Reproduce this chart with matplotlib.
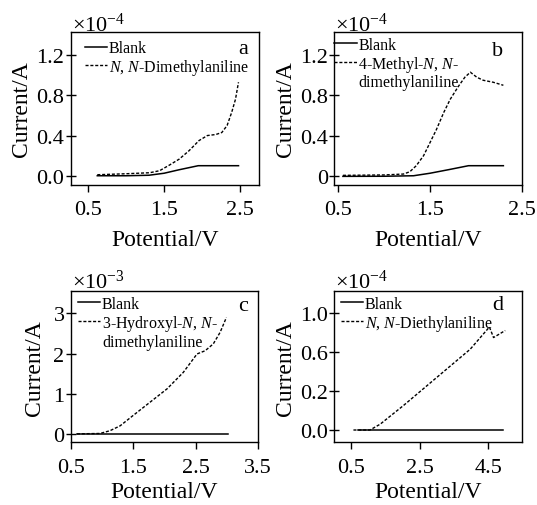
import matplotlib
matplotlib.use("Agg")
import matplotlib.pyplot as plt
import numpy as np

plt.rcParams['font.family'] = ['Liberation Serif', 'DejaVu Serif']
plt.rcParams['mathtext.fontset'] = 'custom'
plt.rcParams['mathtext.rm'] = 'Liberation Serif'
plt.rcParams['mathtext.it'] = 'Liberation Serif:italic'
plt.rcParams['axes.linewidth'] = 1.0

# ---------------- data (current in units of the axis multiplier) -------------
# panel a  (x1e-4 A)
a_blank_v = [0.62, 1.0, 1.3, 1.5, 1.7, 1.95, 2.2, 2.48]
a_blank_i = [0.0, 0.0, 0.005, 0.025, 0.06, 0.10, 0.10, 0.10]
a_samp_v = [0.62, 1.0, 1.31, 1.44, 1.57, 1.70, 1.83, 1.96, 2.07, 2.18, 2.26, 2.33, 2.39, 2.44, 2.48]
a_samp_i = [0.01, 0.02, 0.03, 0.05, 0.106, 0.166, 0.25, 0.35, 0.40, 0.41, 0.43, 0.50, 0.63, 0.76, 0.93]

# panel b  (x1e-4 A)
b_blank_v = [0.55, 1.0, 1.32, 1.5, 1.7, 1.92, 2.1, 2.30]
b_blank_i = [-0.006, -0.005, 0.0, 0.025, 0.06, 0.10, 0.10, 0.10]
b_samp_v = [0.55, 1.0, 1.21, 1.28, 1.35, 1.43, 1.50, 1.57, 1.65, 1.72, 1.81, 1.88, 1.94, 2.01, 2.08, 2.19, 2.30]
b_samp_i = [0.004, 0.008, 0.017, 0.04, 0.10, 0.20, 0.33, 0.46, 0.63, 0.76, 0.89, 0.98, 1.03, 0.98, 0.95, 0.93, 0.90]

# panel c  (x1e-3 A)
c_blank_v = [0.6, 1.5, 2.5, 3.02]
c_blank_i = [0.0, 0.0, 0.0, 0.0]
c_samp_v = [0.6, 0.97, 1.13, 1.29, 1.50, 1.77, 2.04, 2.30, 2.52, 2.65, 2.78, 2.89, 2.99]
c_samp_i = [0.0, 0.01, 0.08, 0.20, 0.46, 0.79, 1.12, 1.53, 1.99, 2.07, 2.24, 2.53, 2.90]

# panel d  (axis units; ticks drawn as printed)
d_blank_v = [0.71, 2.5, 4.94]
d_blank_i = [0.0, 0.0, 0.0]
d_samp_v = [0.57, 1.05, 1.35, 2.03, 3.0, 3.97, 4.53, 4.65, 4.99]
d_samp_i = [0.0, 0.0, 0.05, 0.21, 0.45, 0.69, 0.88, 0.79, 0.85]

labels = {
    'a': [r'$N$, $N$-Dimethylaniline'],
    'b': ['4-Methyl-$N$, $N$-', 'dimethylaniline'],
    'c': ['3-Hydroxyl-$N$, $N$-', 'dimethylaniline'],
    'd': [r'$N$, $N$-Diethylaniline'],
}

# ------------------------------ figure ---------------------------------------
W, H = 537, 506
fig = plt.figure(figsize=(W / 100, H / 100), dpi=100)

def rect(l, t, r, b):
    return [l / W, 1 - b / H, (r - l) / W, (b - t) / H]

axes = {
    'a': fig.add_axes(rect(70.7, 33, 259, 186)),
    'b': fig.add_axes(rect(334.3, 33, 521.7, 186)),
    'c': fig.add_axes(rect(70.7, 292.3, 258.3, 443.3)),
    'd': fig.add_axes(rect(334.3, 292.3, 521.7, 443.3)),
}

data = {
    'a': (a_blank_v, a_blank_i, a_samp_v, a_samp_i),
    'b': (b_blank_v, b_blank_i, b_samp_v, b_samp_i),
    'c': (c_blank_v, c_blank_i, c_samp_v, c_samp_i),
    'd': (d_blank_v, d_blank_i, d_samp_v, d_samp_i),
}

cfg = {
    'a': dict(xlim=(0.27, 2.75), ylim=(-0.092, 1.43), xt=[0.5, 1.5, 2.5], xtl=['0.5', '1.5', '2.5'],
              yt=[0, 0.4, 0.8, 1.2], ytl=['0.0', '0.4', '0.8', '1.2'], mult=r'$\times10^{-4}$',
              leg=(0.059, 0.968), let=(0.942, 0.889), moff=1.0, ylp=3, xlp=7),
    'b': dict(xlim=(0.456, 2.5), ylim=(-0.092, 1.43), xt=[0.5, 1.5, 2.5], xtl=['0.5', '1.5', '2.5'],
              yt=[0, 0.4, 0.8, 1.2], ytl=['0', '0.4', '0.8', '1.2'], mult=r'$\times10^{-4}$',
              leg=(-0.017, 0.99), let=(0.90, 0.882), moff=1.0, ylp=3, xlp=7),
    'c': dict(xlim=(0.5, 3.5), ylim=(-0.21, 3.55), xt=[0.5, 1.5, 2.5, 3.5], xtl=['0.5', '1.5', '2.5', '3.5'],
              yt=[0, 1, 2, 3], ytl=['0', '1', '2', '3'], mult=r'$\times10^{-3}$',
              leg=(0.022, 0.99), let=(0.945, 0.909), moff=2.5, ylp=6, xlp=3.5),
    'd': dict(xlim=(0.013, 5.47), ylim=(-0.105, 1.185), xt=[0.5, 2.5, 4.5], xtl=['0.5', '2.5', '4.5'],
              yt=[0, 1 / 3, 2 / 3, 1], ytl=['0.0', '0.2', '0.6', '1.0'], mult=r'$\times10^{-4}$',
              leg=(0.019, 0.99), let=(0.90, 0.912), moff=2.5, ylp=3, xlp=3.5),
}

for key, ax in axes.items():
    bv, bi, sv, si = data[key]
    c = cfg[key]
    ax.plot(bv, bi, color='black', lw=1.1, ls='-', label='Blank')
    ax.plot(sv, si, color='black', lw=1.0, ls=(0, (2.2, 1.3)), label=labels[key][0])
    for extra in labels[key][1:]:
        ax.plot([], [], ls='none', label=extra)
    ax.set_xlim(*c['xlim'])
    ax.set_ylim(*c['ylim'])
    ax.set_xticks(c['xt'])
    ax.set_xticklabels(c['xtl'])
    ax.set_yticks(c['yt'])
    ax.set_yticklabels(c['ytl'])
    ax.tick_params(axis='x', direction='out', length=5, width=1, labelsize=16, pad=6)
    ax.tick_params(axis='y', direction='inout', length=7, width=1, labelsize=16, pad=1)
    ax.set_xlabel('Potential/V', fontsize=17, labelpad=c['xlp'])
    ax.set_ylabel('Current/A', fontsize=17, labelpad=c['ylp'])
    ax.annotate(c['mult'], xy=(0, 1), xycoords='axes fraction', xytext=(0.8, c['moff']),
                textcoords='offset points', ha='left', va='baseline', fontsize=16)
    ax.text(c['let'][0], c['let'][1], key, transform=ax.transAxes, ha='right', va='center',
            fontsize=16)
    ax.legend(loc='upper left', bbox_to_anchor=c['leg'], frameon=False, fontsize=11.5,
              handlelength=1.4, handletextpad=0.1, borderaxespad=0.0, borderpad=0.2,
              labelspacing=0.05)

fig.savefig('out.png', dpi=100)
